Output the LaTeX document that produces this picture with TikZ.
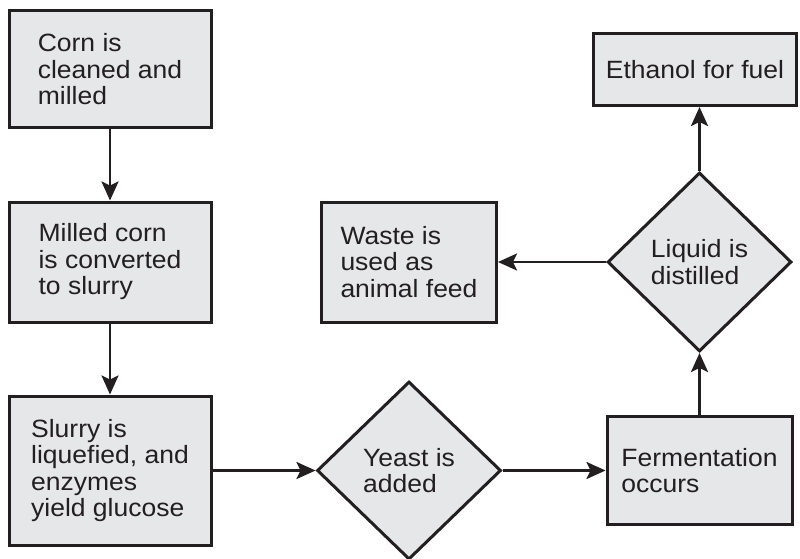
\documentclass[tikz,border=0pt]{standalone}
\usepackage{fontspec}
\setmainfont{Liberation Sans}[FakeStretch=1.06]
\usetikzlibrary{arrows.meta,positioning,shapes.geometric}
\definecolor{boxfill}{HTML}{E6E7E8}
\definecolor{ink}{HTML}{231F20}

\begin{document}
\begin{tikzpicture}[
  x=1pt, y=1pt,
  font={\fontsize{25}{26.5}\selectfont},
  stepbox/.style={draw=ink, line width=3pt, fill=boxfill, text=ink, align=left, inner sep=0pt},
  decision/.style={diamond, draw=ink, line width=3pt, fill=boxfill, text=ink, align=left, inner sep=0pt, minimum width=184pt, minimum height=178pt},
  arrow/.style={-{Stealth[length=19pt,width=17pt,inset=4pt]}, line width=2.6pt, draw=ink}
]
\useasboundingbox (0,0) rectangle (800,-559);
\node[stepbox, minimum width=202pt, minimum height=117pt] (corn) at (110,-69.5) {Corn is\\cleaned and\\milled};
\node[stepbox, minimum width=202pt, minimum height=120pt, below=71pt of corn] (slurry) {Milled corn\\is converted\\to slurry};
\node[stepbox, minimum width=202pt, minimum height=149pt, below=71pt of slurry] (liquefy) {Slurry is\\liquefied, and\\enzymes\\yield glucose};
\node[decision, right=103pt of liquefy] (yeast) {Yeast is\\added};
\node[stepbox, minimum width=185pt, minimum height=108pt, right=103pt of yeast] (ferment) {Fermentation\\occurs};
\node[decision, minimum height=179pt, above=62pt of ferment] (distill) {Liquid is\\distilled};
\node[stepbox, minimum width=175pt, minimum height=120pt, left=108pt of distill] (waste) {Waste is\\used as\\animal feed};
\node[stepbox, minimum width=203pt, minimum height=72pt, above=64pt of distill, xshift=-4.5pt] (ethanol) {Ethanol for fuel};
\draw[arrow] (corn) -- (slurry);
\draw[arrow] (slurry) -- (liquefy);
\draw[arrow] (liquefy) -- (yeast);
\draw[arrow] (yeast) -- (ferment);
\draw[arrow] (ferment) -- (distill);
\draw[arrow] (distill) -- (waste);
\draw[arrow] (distill.north) -- (distill.north |- ethanol.south);
\end{tikzpicture}
\end{document}
